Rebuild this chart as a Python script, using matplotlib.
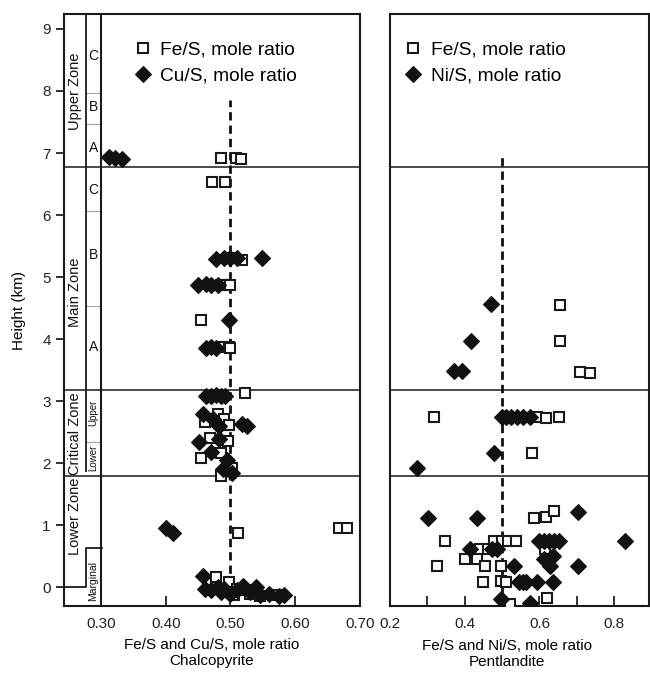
import matplotlib
matplotlib.use("Agg")
import matplotlib.pyplot as plt

plt.rcParams['font.family'] = ['Liberation Sans', 'DejaVu Sans']

# ---------------- Data: Chalcopyrite ----------------
cp_fe_x = [0.486, 0.508, 0.517, 0.472, 0.492, 0.500, 0.518, 0.485, 0.495, 0.500,
           0.455, 0.490, 0.497, 0.500, 0.522, 0.480, 0.460, 0.490, 0.498,
           0.468, 0.496, 0.486, 0.455, 0.503, 0.486, 0.511, 0.668, 0.680,
           0.478, 0.497, 0.500, 0.505, 0.510, 0.520, 0.530, 0.545, 0.570]
cp_fe_y = [6.92, 6.92, 6.90, 6.53, 6.53, 5.30, 5.28, 4.88, 4.88, 4.87,
           4.31, 3.87, 3.87, 3.86, 3.13, 2.79, 2.66, 2.72, 2.61,
           2.40, 2.36, 2.16, 2.08, 1.93, 1.80, 0.87, 0.96, 0.96,
           0.17, 0.08, -0.08, -0.12, -0.02, -0.05, -0.10, -0.14, -0.12]
cp_cu_x = [0.312, 0.322, 0.333, 0.478, 0.490, 0.500, 0.510, 0.548,
           0.450, 0.462, 0.470, 0.480, 0.498, 0.462, 0.470, 0.478,
           0.462, 0.470, 0.478, 0.486, 0.492,
           0.457, 0.473, 0.483, 0.518, 0.526,
           0.452, 0.483, 0.470, 0.494, 0.488, 0.502,
           0.400, 0.411, 0.458,
           0.460, 0.470, 0.480, 0.485, 0.490, 0.500, 0.510, 0.520, 0.530,
           0.540, 0.545, 0.560, 0.575, 0.582]
cp_cu_y = [6.93, 6.92, 6.90, 5.29, 5.30, 5.31, 5.30, 5.31,
           4.88, 4.89, 4.88, 4.87, 4.31, 3.86, 3.87, 3.86,
           3.08, 3.09, 3.10, 3.09, 3.08,
           2.79, 2.71, 2.60, 2.63, 2.60,
           2.34, 2.39, 2.18, 2.06, 1.90, 1.85,
           0.96, 0.88, 0.19,
           -0.03, -0.05, 0.00, -0.07, -0.03, -0.10, -0.05, 0.02, -0.08,
           0.00, -0.12, -0.10, -0.14, -0.12]

# ---------------- Data: Pentlandite ----------------
pn_fe_x = [0.654, 0.654, 0.708, 0.734, 0.319, 0.594, 0.618, 0.651, 0.579,
           0.585, 0.617, 0.638, 0.348, 0.478, 0.500, 0.517, 0.538,
           0.440, 0.463, 0.614, 0.400, 0.434, 0.327, 0.453, 0.498,
           0.448, 0.498, 0.510, 0.522, 0.621]
pn_fe_y = [4.55, 3.97, 3.47, 3.46, 2.74, 2.74, 2.73, 2.74, 2.17,
           1.12, 1.14, 1.23, 0.74, 0.74, 0.74, 0.74, 0.74,
           0.62, 0.62, 0.62, 0.46, 0.46, 0.35, 0.35, 0.35,
           0.09, 0.10, 0.09, -0.27, -0.17]
pn_ni_x = [0.471, 0.418, 0.370, 0.393, 0.500, 0.510, 0.525, 0.540, 0.555, 0.575,
           0.478, 0.273, 0.302, 0.434, 0.702, 0.828,
           0.600, 0.612, 0.625, 0.640, 0.652, 0.413, 0.474, 0.487,
           0.612, 0.637, 0.533, 0.628, 0.702,
           0.545, 0.557, 0.565, 0.592, 0.636, 0.496, 0.574]
pn_ni_y = [4.56, 3.97, 3.48, 3.48, 2.74, 2.74, 2.74, 2.74, 2.74, 2.74,
           2.17, 1.93, 1.12, 1.12, 1.22, 0.74,
           0.74, 0.74, 0.74, 0.74, 0.74, 0.62, 0.62, 0.62,
           0.45, 0.50, 0.35, 0.35, 0.35,
           0.09, 0.09, 0.09, 0.09, 0.09, -0.19, -0.25]

zone_bounds = [6.77, 3.18, 1.79]
sub_bounds = [7.96, 7.46, 6.07, 4.53, 2.35]

W, H = 650, 674
fig = plt.figure(figsize=(W / 100, H / 100), dpi=100)
top, bot = 14, 606
ax1 = fig.add_axes([64 / W, (H - bot) / H, (360 - 64) / W, (bot - top) / H])
ax2 = fig.add_axes([390 / W, (H - bot) / H, (649 - 390) / W, (bot - top) / H])

ylim = (-0.3, 9.24)
edge = '#1a1a1a'
sq_kw = dict(marker='s', ls='none', ms=6.8, mfc='white', mec='#1a1a1a', mew=1.5, zorder=3)
dm_kw = dict(marker='D', ls='none', ms=7.8, mfc='#111111', mec='#111111', mew=0.8, zorder=4)

# ---- left panel ----
x0, xs, xi = 0.243, 0.30, 0.277
ax1.set_xlim(x0, 0.698)
ax1.set_ylim(*ylim)
for yb in zone_bounds:
    ax1.plot([x0, 0.698], [yb, yb], color=edge, lw=1.1, zorder=1)
for yb in sub_bounds:
    ax1.plot([xi, xs], [yb, yb], color='#aaaaaa', lw=0.9, zorder=1)
ax1.plot([xs, xs], ylim, color=edge, lw=1.5, zorder=2)
ax1.plot([xi, xi], [ylim[1], 1.88], color=edge, lw=1.3, zorder=2)
ax1.plot([x0, xi, xi, xs + 0.002], [0.0, 0.0, 0.64, 0.64], color=edge, lw=1.3, zorder=2)

ax1.plot([0.5, 0.5], [-0.2, 7.86], color='#111111', lw=2, ls=(0, (3, 1.8)), zorder=2)
ax1.plot(cp_fe_x, cp_fe_y, label='Fe/S, mole ratio', **sq_kw)
ax1.plot(cp_cu_x, cp_cu_y, label='Cu/S, mole ratio', **dm_kw)

xm = (x0 + xi) / 2
xn = (xi + xs) / 2
zt = dict(rotation=90, ha='center', va='center', fontsize=10.5, color='#111111')
ax1.text(xm, 8.0, 'Upper Zone', **zt)
ax1.text(xm, 4.75, 'Main Zone', **zt)
ax1.text(xm, 2.48, 'Critical Zone', **zt)
ax1.text(xm, 1.14, 'Lower Zone', **zt)
lt = dict(ha='center', va='center', fontsize=10, color='#111111')
for lab, yy in [('C', 8.56), ('B', 7.74), ('A', 7.08), ('C', 6.40), ('B', 5.35), ('A', 3.87)]:
    ax1.text(xn, yy, lab, **lt)
st = dict(rotation=90, ha='center', va='center', fontsize=7, color='#111111')
ax1.text(xn, 2.82, 'Upper', **st)
ax1.text(xn, 2.08, 'Lower', **st)
ax1.text(xn, 0.10, 'Marginal', rotation=90, ha='center', va='center', fontsize=7.5, color='#111111')

ax1.set_xticks([0.30, 0.40, 0.50, 0.60, 0.70])
ax1.set_xticklabels(['0.30', '0.40', '0.50', '0.60', '0.70'])
ax1.tick_params(axis='x', direction='in', length=7, width=1.3, pad=8, labelsize=11, colors='#222222')
ax1.set_yticks(range(0, 10))
ax1.tick_params(axis='y', direction='out', length=6, width=1.3, labelsize=11, colors='#222222')
ax1.set_ylabel('Height (km)', fontsize=11, labelpad=12)
ax1.set_xlabel('Fe/S and Cu/S, mole ratio\nChalcopyrite', fontsize=11, labelpad=5, linespacing=1.15)
for s in ax1.spines.values():
    s.set_linewidth(1.5)
    s.set_color(edge)
ax1.legend(loc='upper left', bbox_to_anchor=(0.163, 0.986), frameon=False, fontsize=13.8,
           handletextpad=0.3, borderaxespad=0.6, labelspacing=0.45, handlelength=1.2)

# ---- right panel ----
ax2.set_xlim(0.2, 0.893)
ax2.set_ylim(*ylim)
for yb in zone_bounds:
    ax2.axhline(yb, color=edge, lw=1.1, zorder=1)
ax2.plot([0.5, 0.5], [-0.3, 6.97], color='#111111', lw=2, ls=(0, (3, 1.8)), zorder=2)
ax2.plot(pn_fe_x, pn_fe_y, label='Fe/S, mole ratio', **sq_kw)
ax2.plot(pn_ni_x, pn_ni_y, label='Ni/S, mole ratio', **dm_kw)
ax2.set_xticks([0.2, 0.3, 0.4, 0.5, 0.6, 0.7, 0.8])
ax2.set_xticklabels(['0.2', '', '0.4', '', '0.6', '', '0.8'])
ax2.tick_params(axis='x', direction='in', length=7, width=1.3, pad=8, labelsize=11, colors='#222222')
ax2.set_yticks([])
ax2.set_xlabel('Fe/S and Ni/S, mole ratio\nPentlandite', fontsize=11, labelpad=5, linespacing=1.15)
ax2.xaxis.set_label_coords(0.45, -0.056)
for s in ax2.spines.values():
    s.set_linewidth(1.5)
    s.set_color(edge)
ax2.legend(loc='upper left', bbox_to_anchor=(-0.028, 0.986), frameon=False, fontsize=13.8,
           handletextpad=0.3, borderaxespad=0.6, labelspacing=0.45, handlelength=1.2)

fig.savefig('out.png', dpi=100)
